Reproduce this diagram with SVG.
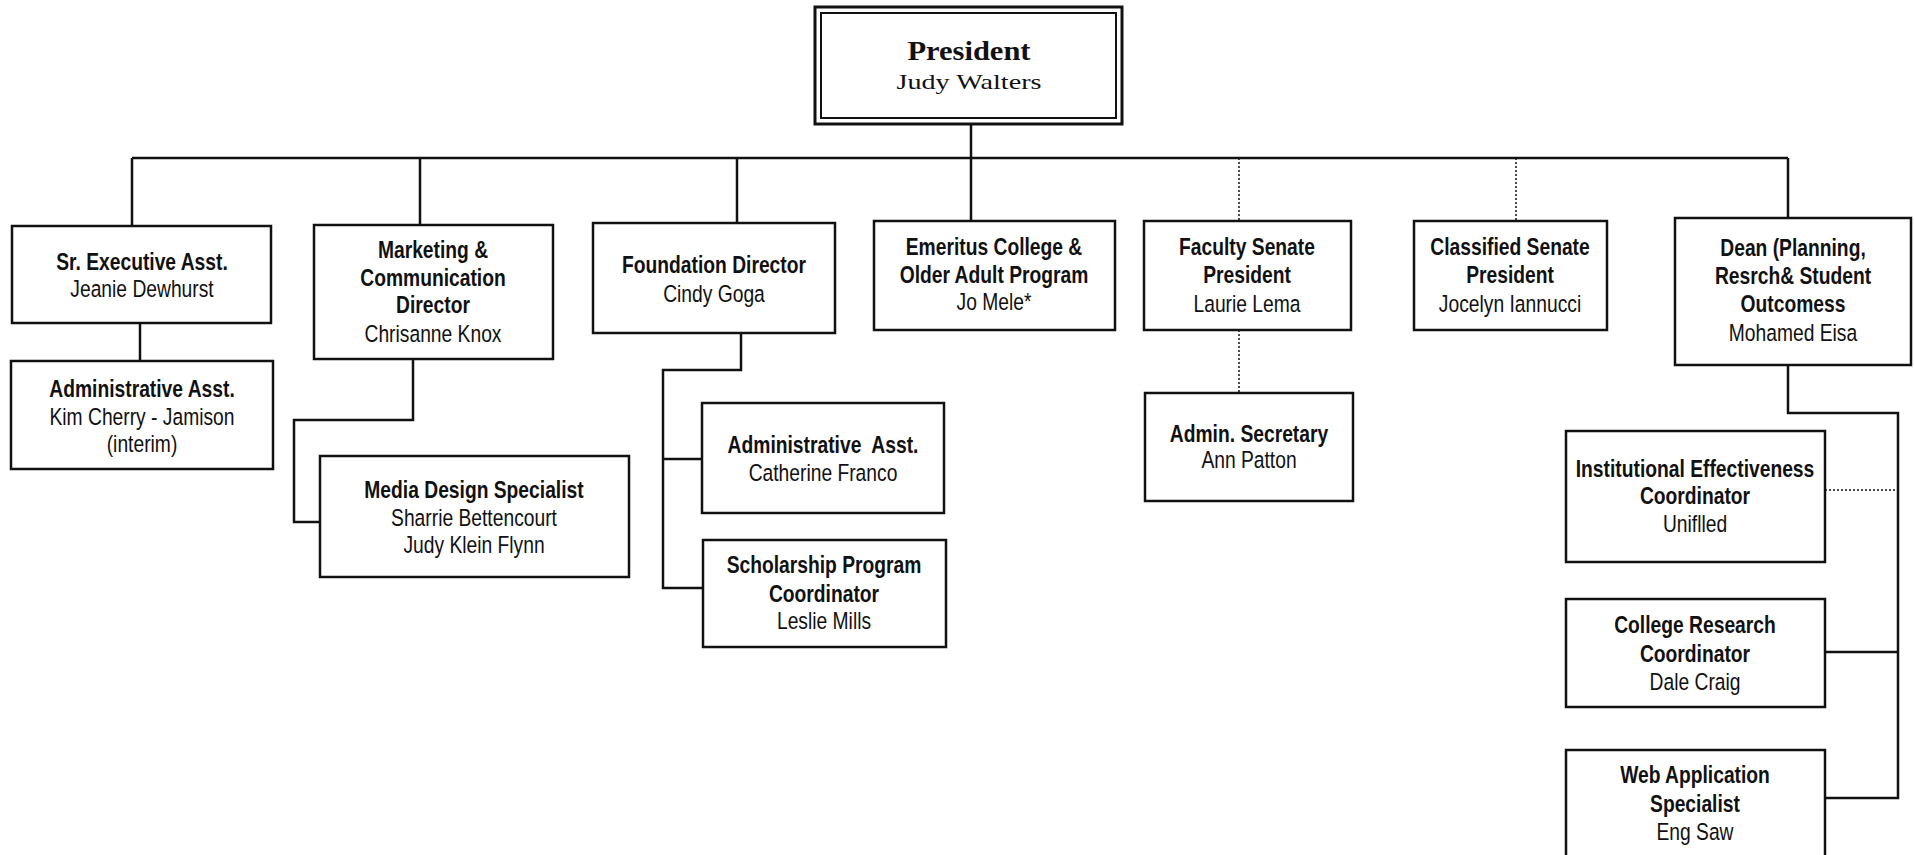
<svg xmlns="http://www.w3.org/2000/svg" width="1914" height="855" viewBox="0 0 1914 855">
<style>
.box{fill:#fff;stroke:#111;stroke-width:2.5}
.ln{fill:none;stroke:#111;stroke-width:2.5}
.dot{fill:none;stroke:#111;stroke-width:1.5;stroke-dasharray:2 2}
text{font-family:"Liberation Sans Narrow","Arial Narrow","Liberation Sans",sans-serif;font-size:23.5px;fill:#111;text-anchor:middle}
.b{font-weight:bold}
.serif{font-family:"Liberation Serif","Times New Roman",serif}
</style>
<rect width="1914" height="855" fill="#fff"/>
<g id="connectors">
<path class="ln" d="M971 125V221"/>
<path class="ln" d="M132 158H1788"/>
<path class="ln" d="M132 158V226M420 158V225M737 158V223M1788 158V219"/>
<path class="ln" d="M140 323V361"/>
<path class="ln" d="M413 359V420H294V522H320"/>
<path class="ln" d="M741 333V370H663V588H703M663 459H702"/>
<path class="dot" d="M1239 158V221M1516 158V221M1239 330V393"/>
<path class="ln" d="M1788 364V413H1898V798H1825M1898 652H1825"/>
<path class="dot" d="M1825 490H1898"/>
</g>
<g id="president">
<rect x="815" y="7" width="307" height="117" fill="#fff" stroke="#111" stroke-width="3"/>
<rect x="821" y="13" width="295" height="105" fill="none" stroke="#111" stroke-width="2"/>
<text class="serif b" x="969" y="60" textLength="123" lengthAdjust="spacingAndGlyphs" style="font-size:27px">President</text>
<text class="serif" x="969" y="89" textLength="145" lengthAdjust="spacingAndGlyphs" style="font-size:21px">Judy Walters</text>
</g>
<g id="sr-exec">
<rect class="box" x="12" y="226" width="259" height="97"/>
<g transform="translate(142 0) scale(0.82 1)">
<text class="b" x="0" y="270">Sr. Executive Asst.</text>
<text x="0" y="297">Jeanie Dewhurst</text>
</g>
</g>
<g id="admin-asst-1">
<rect class="box" x="11" y="361" width="262" height="108"/>
<g transform="translate(142 0) scale(0.82 1)">
<text class="b" x="0" y="397">Administrative Asst.</text>
<text x="0" y="425">Kim Cherry - Jamison</text>
<text x="0" y="452">(interim)</text>
</g>
</g>
<g id="marketing">
<rect class="box" x="314" y="225" width="239" height="134"/>
<g transform="translate(433 0) scale(0.82 1)">
<text class="b" x="0" y="258">Marketing &amp;</text>
<text class="b" x="0" y="286">Communication</text>
<text class="b" x="0" y="313">Director</text>
<text x="0" y="342">Chrisanne Knox</text>
</g>
</g>
<g id="media">
<rect class="box" x="320" y="456" width="309" height="121"/>
<g transform="translate(474 0) scale(0.82 1)">
<text class="b" x="0" y="498">Media Design Specialist</text>
<text x="0" y="526">Sharrie Bettencourt</text>
<text x="0" y="553">Judy Klein Flynn</text>
</g>
</g>
<g id="foundation">
<rect class="box" x="593" y="223" width="242" height="110"/>
<g transform="translate(714 0) scale(0.82 1)">
<text class="b" x="0" y="273">Foundation Director</text>
<text x="0" y="302">Cindy Goga</text>
</g>
</g>
<g id="admin-asst-2">
<rect class="box" x="702" y="403" width="242" height="110"/>
<g transform="translate(823 0) scale(0.82 1)">
<text class="b" x="0" y="453" xml:space="preserve">Administrative  Asst.</text>
<text x="0" y="481">Catherine Franco</text>
</g>
</g>
<g id="scholarship">
<rect class="box" x="703" y="540" width="243" height="107"/>
<g transform="translate(824 0) scale(0.82 1)">
<text class="b" x="0" y="573">Scholarship Program</text>
<text class="b" x="0" y="602">Coordinator</text>
<text x="0" y="629">Leslie Mills</text>
</g>
</g>
<g id="emeritus">
<rect class="box" x="874" y="221" width="241" height="109"/>
<g transform="translate(994 0) scale(0.82 1)">
<text class="b" x="0" y="255">Emeritus College &amp;</text>
<text class="b" x="0" y="283">Older Adult Program</text>
<text x="0" y="310">Jo Mele*</text>
</g>
</g>
<g id="faculty-senate">
<rect class="box" x="1144" y="221" width="207" height="109"/>
<g transform="translate(1247 0) scale(0.82 1)">
<text class="b" x="0" y="255">Faculty Senate</text>
<text class="b" x="0" y="283">President</text>
<text x="0" y="312">Laurie Lema</text>
</g>
</g>
<g id="admin-secretary">
<rect class="box" x="1145" y="393" width="208" height="108"/>
<g transform="translate(1249 0) scale(0.82 1)">
<text class="b" x="0" y="442">Admin. Secretary</text>
<text x="0" y="468">Ann Patton</text>
</g>
</g>
<g id="classified-senate">
<rect class="box" x="1414" y="221" width="193" height="109"/>
<g transform="translate(1510 0) scale(0.82 1)">
<text class="b" x="0" y="255">Classified Senate</text>
<text class="b" x="0" y="283">President</text>
<text x="0" y="312">Jocelyn Iannucci</text>
</g>
</g>
<g id="dean">
<rect class="box" x="1675" y="218" width="236" height="147"/>
<g transform="translate(1793 0) scale(0.82 1)">
<text class="b" x="0" y="256">Dean (Planning,</text>
<text class="b" x="0" y="284">Resrch&amp; Student</text>
<text class="b" x="0" y="312">Outcomess</text>
<text x="0" y="341">Mohamed Eisa</text>
</g>
</g>
<g id="institutional">
<rect class="box" x="1566" y="431" width="259" height="131"/>
<g transform="translate(1695 0) scale(0.82 1)">
<text class="b" x="0" y="477">Institutional Effectiveness</text>
<text class="b" x="0" y="504">Coordinator</text>
<text x="0" y="532">Uniflled</text>
</g>
</g>
<g id="college-research">
<rect class="box" x="1566" y="599" width="259" height="108"/>
<g transform="translate(1695 0) scale(0.82 1)">
<text class="b" x="0" y="633">College Research</text>
<text class="b" x="0" y="662">Coordinator</text>
<text x="0" y="690">Dale Craig</text>
</g>
</g>
<g id="web-app">
<rect class="box" x="1566" y="750" width="259" height="115"/>
<g transform="translate(1695 0) scale(0.82 1)">
<text class="b" x="0" y="783">Web Application</text>
<text class="b" x="0" y="812">Specialist</text>
<text x="0" y="840">Eng Saw</text>
</g>
</g>
</svg>
